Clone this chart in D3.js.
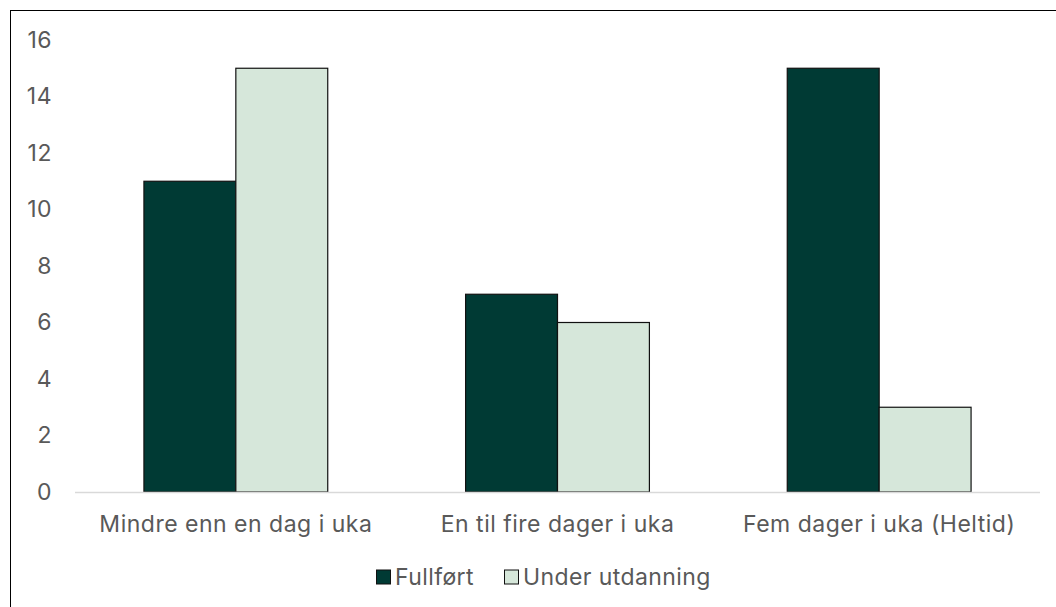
<!DOCTYPE html>
<html>
<head>
<meta charset="utf-8">
<script src="https://cdn.jsdelivr.net/npm/d3@7"></script>
<style>
  body { margin: 0; background: #fff; }
</style>
</head>
<body>
<svg id="chart"></svg>
<script>
// Chart data
var categories = ["Mindre enn en dag i uka", "En til fire dager i uka", "Fem dager i uka (Heltid)"];
var seriesNames = ["Fullført", "Under utdanning"];
var fullfort = [11, 7, 15];
var underUtdanning = [15, 6, 3];
var yTicks = [0, 2, 4, 6, 8, 10, 12, 14, 16];

var colors = ["#003a34", "#d6e7da"];
var fontFamily = "Inter, 'Noto Sans', sans-serif";
var textColor = "#595959";

var width = 1056, height = 607;
var padding = {top: 40, right: 16, bottom: 115, left: 75};

var svg = d3.select("#chart")
            .attr("width", width)
            .attr("height", height);

// Outer frame (only top/left edges fall inside the picture)
svg.append("rect")
   .attr("x", 10.5)
   .attr("y", 10.5)
   .attr("width", width + 20)
   .attr("height", height + 20)
   .attr("fill", "none")
   .attr("stroke", "#000")
   .attr("stroke-width", 1);

var xScale = d3.scaleBand()
               .domain(categories)
               .range([padding.left, width - padding.right]);

// Excel-like gap width of 150%: bar = band / 3.5
var barWidth = xScale.bandwidth() / 3.5;

var yScale = d3.scaleLinear()
               .domain([0, 16])
               .range([height - padding.bottom, padding.top]);

// Y-axis labels
var yAxis = svg.append("g")
               .attr("transform", "translate(" + 52 + ",0)")
               .call(d3.axisLeft(yScale).tickValues(yTicks).tickSize(0).tickPadding(0));
yAxis.select(".domain").remove();
yAxis.selectAll("text")
     .style("font-size", "23px")
     .style("font-family", fontFamily)
     .style("letter-spacing", "0.5px")
     .attr("fill", textColor);

// Bars
var rows = categories.map(function(c, i) {
    return {category: c, values: [fullfort[i], underUtdanning[i]]};
});

var groups = svg.selectAll(".group")
                .data(rows)
                .enter()
                .append("g")
                .classed("group", true);

groups.selectAll("rect")
      .data(function(d) {return d.values;})
      .enter()
      .append("rect")
      .attr("x", function(d, i) {
          var row = d3.select(this.parentNode).datum();
          var center = xScale(row.category) + xScale.bandwidth() / 2;
          return center - barWidth + i * barWidth;
      })
      .attr("width", barWidth)
      .attr("y", function(d) {return yScale(d);})
      .attr("height", function(d) {return yScale(0) - yScale(d);})
      .attr("fill", function(d, i) {return colors[i];})
      .attr("stroke", "#111")
      .attr("stroke-width", 1.2);

// Baseline
svg.append("line")
   .attr("x1", padding.left)
   .attr("x2", width - padding.right)
   .attr("y1", yScale(0) + 0.5)
   .attr("y2", yScale(0) + 0.5)
   .attr("stroke", "#d9d9d9")
   .attr("stroke-width", 1.5);

// X-axis labels
var xAxis = svg.append("g")
               .attr("transform", "translate(0," + yScale(0) + ")")
               .call(d3.axisBottom(xScale).tickSize(0).tickPadding(24));
xAxis.select(".domain").remove();
xAxis.selectAll("text")
     .style("font-size", "23px")
     .style("font-family", fontFamily)
     .style("letter-spacing", "0.5px")
     .attr("fill", textColor);

// Legend
var legendX = [376, 504];
var legend = svg.selectAll(".legend")
                .data(seriesNames)
                .enter()
                .append("g")
                .classed("legend", true)
                .attr("transform", function(d, i) {return "translate(" + legendX[i] + ",577)";});

legend.append("rect")
      .attr("x", 0.5)
      .attr("y", -7)
      .attr("width", 14)
      .attr("height", 14)
      .attr("fill", function(d, i) {return colors[i];})
      .attr("stroke", "#111")
      .attr("stroke-width", 1);

legend.append("text")
      .attr("x", 19)
      .attr("dy", "0.35em")
      .style("font-size", "23px")
      .style("font-family", fontFamily)
      .style("letter-spacing", "0.4px")
      .attr("fill", textColor)
      .text(function(d) {return d;});
</script>
</body>
</html>
